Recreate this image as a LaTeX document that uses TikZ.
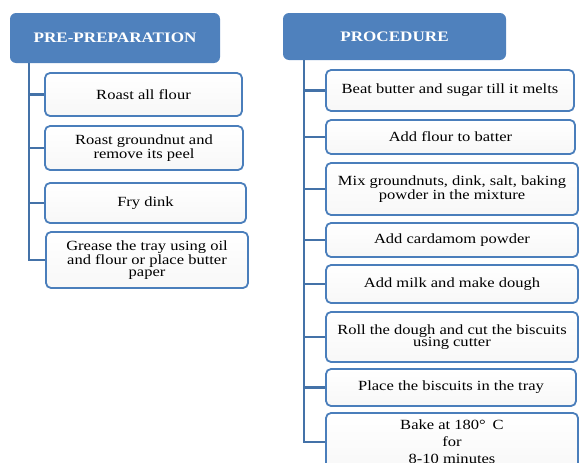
\documentclass[tikz,border=0pt]{standalone}
\usepackage{fontspec}
\setmainfont[FakeStretch=1.18]{Liberation Serif}
\definecolor{hdr}{HTML}{4F81BD}
\definecolor{bdr}{HTML}{4A7EBB}
\definecolor{trk}{HTML}{4472A8}
\begin{document}
\begin{tikzpicture}[x=1pt,y=-1pt,
  hdrbox/.style={fill=hdr, rounded corners=6pt, text=white, inner sep=0pt,
    font=\fontsize{14.5}{16}\selectfont\bfseries},
  stepbox/.style={draw=bdr, line width=1.8pt, rounded corners=5pt, inner sep=0pt,
    top color=white, bottom color=gray!6, align=center,
    font=\fontsize{14}{12.5}\selectfont},
  trunk/.style={draw=trk, line width=2.8pt}]
\useasboundingbox (0,0) rectangle (579,463);
\clip (0,0) rectangle (579,463);
% left column
\node[hdrbox, minimum width=210pt, minimum height=50pt] (lh) at (115,38) {PRE-PREPARATION};
\node[stepbox, minimum width=197pt, minimum height=43pt] (l1) at (143.5,94.5) {Roast all flour};
\node[stepbox, minimum width=198pt, minimum height=44pt] (l2) at (144,148) {Roast groundnut and\\remove its peel};
\node[stepbox, minimum width=201pt, minimum height=40pt] (l3) at (145.5,203) {Fry dink};
\node[stepbox, minimum width=202pt, minimum height=56pt] (l4) at (147,260) {Grease the tray using oil\\and flour or place butter\\paper};
\coordinate (lt) at (29,0);
\draw[trunk] (lh.south -| lt) |- (l4.west);
\foreach \n in {l1,l2,l3} \draw[trunk] (\n.west -| lt) -- (\n.west);
% right column
\node[hdrbox, minimum width=223pt, minimum height=47pt] (rh) at (394.5,36.5) {PROCEDURE};
\node[stepbox, minimum width=248pt, minimum height=41pt] (r1) at (450,90.5) {Beat butter and sugar till it melts};
\node[stepbox, minimum width=249pt, minimum height=34pt] (r2) at (450.5,137) {Add flour to batter};
\node[stepbox, minimum width=252pt, minimum height=52pt] (r3) at (452,189) {Mix groundnuts, dink, salt, baking\\powder in the mixture};
\node[stepbox, minimum width=252pt, minimum height=34pt] (r4) at (452,240) {Add cardamom powder};
\node[stepbox, minimum width=252pt, minimum height=38pt] (r5) at (452,284) {Add milk and make dough};
\node[stepbox, minimum width=252pt, minimum height=50pt] (r6) at (452,337) {Roll the dough and cut the biscuits\\using cutter};
\node[stepbox, minimum width=250pt, minimum height=37pt] (r7) at (451,387.5) {Place the biscuits in the tray};
\node[stepbox, minimum width=252pt, minimum height=58pt, font=\fontsize{14}{17}\selectfont] (r8) at (452,442) {Bake at 180°\enspace C\\for\\8-10 minutes};
\coordinate (rt) at (304,0);
\draw[trunk] (rh.south -| rt) |- (r8.west);
\foreach \n in {r1,r2,r3,r4,r5,r6,r7} \draw[trunk] (\n.west -| rt) -- (\n.west);
\end{tikzpicture}
\end{document}
